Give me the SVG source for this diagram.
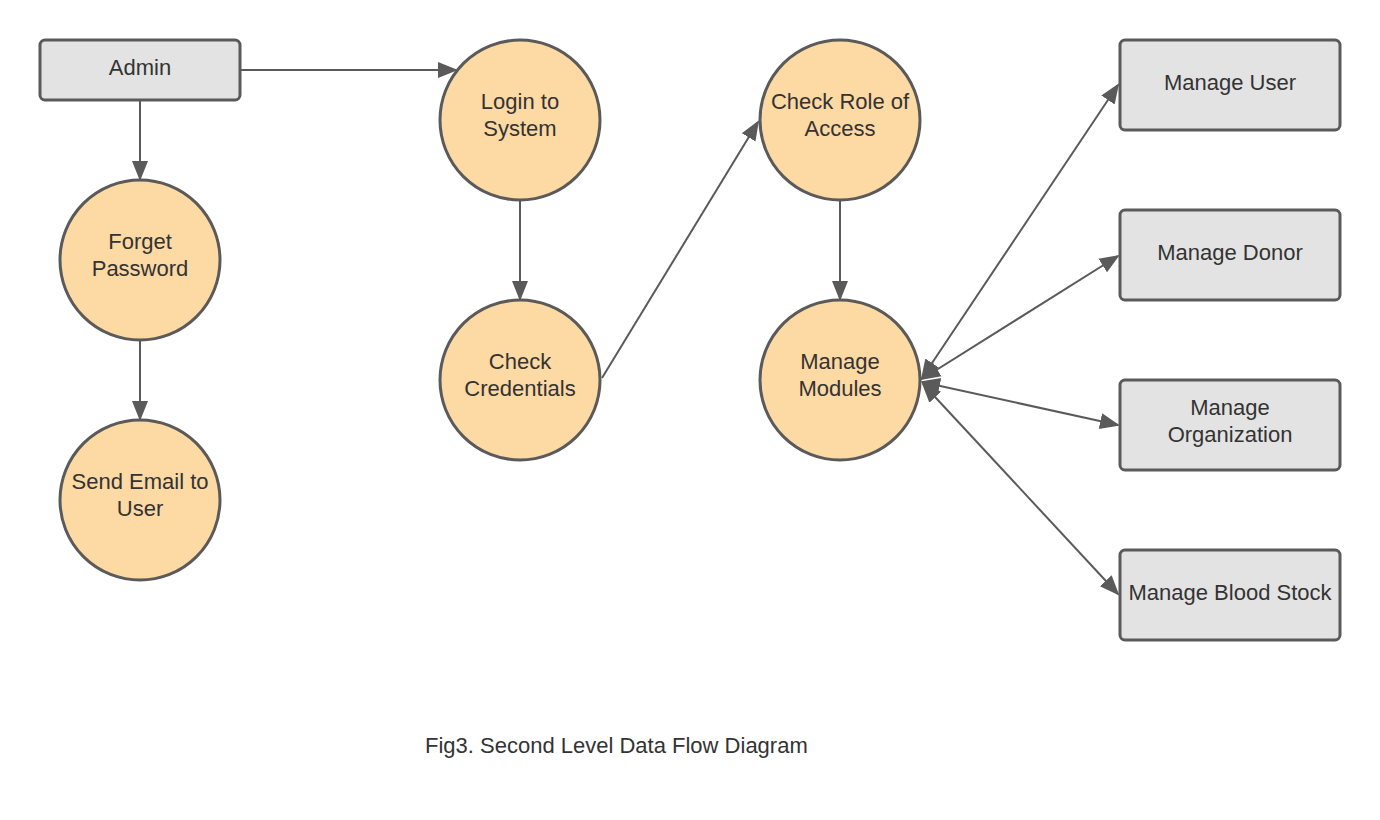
<svg xmlns="http://www.w3.org/2000/svg" width="1380" height="820" viewBox="0 0 1380 820">
<style>
.box{fill:#e3e3e3;stroke:#5a5a5a;stroke-width:3}
.proc{fill:#fdd9a4;stroke:#5a5a5a;stroke-width:3}
.lbl{font-family:"Liberation Sans",Arial,sans-serif;font-size:22px;fill:#333;text-anchor:middle}
.cap{font-family:"Liberation Sans",Arial,sans-serif;font-size:22px;fill:#333}
.edge{stroke:#5a5a5a;stroke-width:2;fill:none;marker-end:url(#ah)}
.bi{marker-start:url(#ah)}
</style>
<defs>
<marker id="ah" markerUnits="userSpaceOnUse" markerWidth="20" markerHeight="20" refX="18" refY="8" orient="auto-start-reverse" viewBox="0 0 20 16">
<path d="M0,0 L20,8 L0,16 Z" fill="#5a5a5a"/>
</marker>
</defs>
<rect width="1380" height="820" fill="#fff"/>
<g id="connectors">
<line class="edge" x1="241" y1="70" x2="456" y2="70"/>
<line class="edge" x1="140" y1="101" x2="140" y2="179"/>
<line class="edge" x1="140" y1="341" x2="140" y2="419"/>
<line class="edge" x1="520" y1="201" x2="520" y2="299"/>
<line class="edge" x1="602" y1="378" x2="758" y2="122"/>
<line class="edge" x1="840" y1="201" x2="840" y2="299"/>
<line class="edge bi" x1="922" y1="378" x2="1118" y2="85"/>
<line class="edge bi" x1="922" y1="379" x2="1118" y2="256"/>
<line class="edge bi" x1="922" y1="382" x2="1118" y2="425"/>
<line class="edge bi" x1="923" y1="384" x2="1118" y2="594"/>
</g>
<g id="admin"><rect class="box" x="40" y="40" width="200" height="60" rx="5"/><text class="lbl" x="140" y="75">Admin</text></g>
<g id="forget"><circle class="proc" cx="140" cy="260" r="80"/><text class="lbl" x="140" y="249">Forget</text><text class="lbl" x="140" y="276">Password</text></g>
<g id="sendemail"><circle class="proc" cx="140" cy="500" r="80"/><text class="lbl" x="140" y="489">Send Email to</text><text class="lbl" x="140" y="516">User</text></g>
<g id="login"><circle class="proc" cx="520" cy="120" r="80"/><text class="lbl" x="520" y="109">Login to</text><text class="lbl" x="520" y="136">System</text></g>
<g id="credentials"><circle class="proc" cx="520" cy="380" r="80"/><text class="lbl" x="520" y="369">Check</text><text class="lbl" x="520" y="396">Credentials</text></g>
<g id="role"><circle class="proc" cx="840" cy="120" r="80"/><text class="lbl" x="840" y="109">Check Role of</text><text class="lbl" x="840" y="136">Access</text></g>
<g id="modules"><circle class="proc" cx="840" cy="380" r="80"/><text class="lbl" x="840" y="369">Manage</text><text class="lbl" x="840" y="396">Modules</text></g>
<g id="manageuser"><rect class="box" x="1120" y="40" width="220" height="90" rx="5"/><text class="lbl" x="1230" y="90">Manage User</text></g>
<g id="managedonor"><rect class="box" x="1120" y="210" width="220" height="90" rx="5"/><text class="lbl" x="1230" y="260">Manage Donor</text></g>
<g id="manageorg"><rect class="box" x="1120" y="380" width="220" height="90" rx="5"/><text class="lbl" x="1230" y="415">Manage</text><text class="lbl" x="1230" y="442">Organization</text></g>
<g id="manageblood"><rect class="box" x="1120" y="550" width="220" height="90" rx="5"/><text class="lbl" x="1230" y="600">Manage Blood Stock</text></g>
<text class="cap" x="425" y="753">Fig3. Second Level Data Flow Diagram</text>
</svg>
